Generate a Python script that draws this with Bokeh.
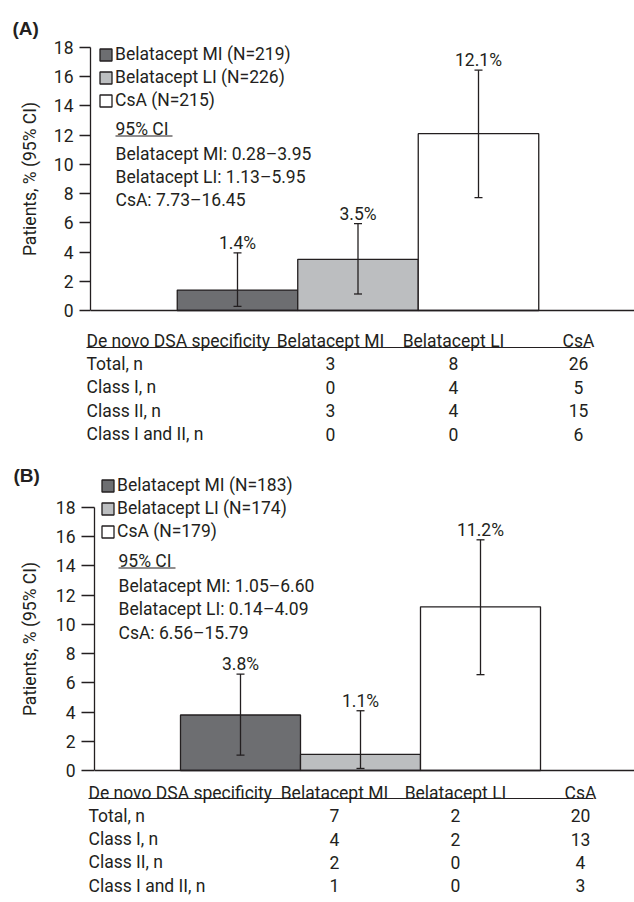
import math
from bokeh.plotting import figure
from bokeh.models import (ColumnDataSource, Range1d, Whisker, TeeHead, Legend, LegendItem,
                          Span, FixedTicker)
from bokeh.layouts import column, row
from bokeh.embed import file_html
from bokeh.resources import INLINE
from bokeh.core.properties import value

# ---------------- data ----------------
groups = ["Belatacept MI", "Belatacept LI", "CsA"]
a_n = [219, 226, 215]
a_pct = [1.4, 3.5, 12.1]
a_lo = [0.28, 1.13, 7.73]
a_hi = [3.95, 5.95, 16.45]
b_n = [183, 174, 179]
b_pct = [3.8, 1.1, 11.2]
b_lo = [1.05, 0.14, 6.56]
b_hi = [6.60, 4.09, 15.79]
y_ticks = [0, 2, 4, 6, 8, 10, 12, 14, 16, 18]
table_title = "De novo DSA specificity"
row_labels = ["Total, n", "Class I, n", "Class II, n", "Class I and II, n"]
a_mi = [3, 0, 3, 0]
a_li = [8, 4, 4, 0]
a_csa = [26, 5, 15, 6]
b_mi = [7, 4, 2, 1]
b_li = [2, 2, 0, 0]
b_csa = [20, 13, 4, 3]
y_label = "Patients, % (95% CI)"

# ---------------- style ----------------
FONT = "Roboto"
FS = "17.5px"
INK = "#231f20"
bar_colors = ["#6d6e71", "#bcbec0", "#ffffff"]
PAGE_W = 634
LW = 48  # width of the left strip holding the panel letter and y label
SY = 14.61


def bare(fig):
    fig.outline_line_color = None
    fig.grid.visible = False
    fig.xaxis.visible = False
    fig.yaxis.visible = False
    fig.background_fill_color = "white"
    fig.border_fill_color = "white"
    return fig


def make_panel(letter, n_vals, pct, lo, hi, tab_cols, g):
    left, top, y0 = g["left"], g["top"], g["y0"]
    cbot = g["chart_bottom"]
    sx = g["bar_px"]
    x_start = 1 - (g["mi_center"] - left) / sx
    x_end = x_start + (PAGE_W - left) / sx

    def dx(px):
        return x_start + (px - left) / sx

    def dy(py):
        return (y0 - py) / SY

    yr = Range1d(dy(cbot), dy(top))
    h = cbot - top

    # ---------- left strip: panel letter + y axis title ----------
    lf = bare(figure(width=LW, height=h, x_range=Range1d(0, LW), y_range=yr,
                     output_backend="svg", toolbar_location=None,
                     min_border_left=0, min_border_right=0,
                     min_border_top=0, min_border_bottom=0))
    lf.text(x=[g["letter_x"]], y=[dy(g["letter_y"])], text=[f"({letter})"],
            text_align="left", text_baseline="middle",
            text_font=value("Liberation Sans"), text_font_style="bold",
            text_font_size="19px", text_color=INK)
    lf.text(x=[g["ylab_x"]], y=[9], text=[y_label], angle=math.pi / 2,
            text_align="center", text_baseline="middle",
            text_font=value(FONT), text_font_size=FS, text_color=INK)

    # ---------- chart ----------
    p = figure(width=PAGE_W - LW, height=h,
               x_range=Range1d(x_start, x_end), y_range=yr,
               output_backend="svg", toolbar_location=None,
               min_border_left=left - LW, min_border_right=0,
               min_border_top=0, min_border_bottom=0)
    p.outline_line_color = None
    p.grid.visible = False
    p.xaxis.visible = False
    p.background_fill_color = "white"
    p.border_fill_color = "white"

    ax = p.yaxis[0]
    ax.bounds = (0, 18)
    ax.ticker = FixedTicker(ticks=y_ticks)
    ax.major_tick_out = g["tick"]
    ax.major_tick_in = 0
    ax.minor_tick_out = 0
    ax.minor_tick_in = 0
    ax.axis_line_color = INK
    ax.axis_line_width = 1.3
    ax.major_tick_line_color = INK
    ax.major_tick_line_width = 1.3
    ax.major_label_text_font = FONT
    ax.major_label_text_font_size = FS
    ax.major_label_text_color = INK
    ax.major_label_standoff = 6

    p.add_layout(Span(location=0, dimension="width", line_color=INK, line_width=1.3))

    xs = [1, 2, 3]
    src = ColumnDataSource(dict(x=xs, top=pct, color=bar_colors,
                                lower=lo, upper=hi,
                                lab=[f"{v}%" for v in pct]))
    bars = p.vbar(x="x", top="top", width=1.0, bottom=0, source=src,
                  fill_color="color", line_color=INK, line_width=1.3)

    p.add_layout(Whisker(source=src, base="x", lower="lower", upper="upper",
                         dimension="height", line_color=INK, line_width=1.3,
                         level="overlay",
                         upper_head=TeeHead(size=8, line_color=INK, line_width=1.3),
                         lower_head=TeeHead(size=8, line_color=INK, line_width=1.3)))

    p.text(x="x", y="upper", text="lab", source=src,
           text_align="center", text_baseline="bottom",
           text_font=value(FONT), text_font_size=FS, text_color=INK)

    # legend
    row_h = 23
    items = [LegendItem(label=f"{gname} (N={n})", renderers=[bars], index=i)
             for i, (gname, n) in enumerate(zip(groups, n_vals))]
    leg_top = g["leg_y"] - row_h / 2
    leg_h = row_h * len(items)
    p.add_layout(Legend(items=items,
                        location=(g["leg_x"] - left, cbot - leg_top - leg_h),
                        glyph_width=15, glyph_height=15, label_standoff=2,
                        label_height=row_h, spacing=0, padding=0, margin=0,
                        border_line_color=None, background_fill_alpha=0,
                        label_text_font=FONT, label_text_font_size=FS,
                        label_text_color=INK, label_text_baseline="middle"))

    # 95% CI block
    ci_lines = ["95% CI"] + [f"{gname}: {l:.2f}\u2013{hh:.2f}"
                             for gname, l, hh in zip(groups, lo, hi)]
    ci_src = ColumnDataSource(dict(x=[dx(g["ci_x"])] * 4,
                                   y=[dy(v) for v in g["ci_rows"]],
                                   text=ci_lines))
    p.text(x="x", y="y", text="text", source=ci_src, text_align="left",
           text_baseline="middle", text_font=value(FONT), text_font_size=FS,
           text_color=INK)
    p.segment(x0=[dx(g["ci_x"])], x1=[dx(g["ci_ul_end"])],
              y0=[dy(g["ci_ul_y"])], y1=[dy(g["ci_ul_y"])],
              line_color=INK, line_width=1.2)

    # ---------- table ----------
    tb_top, tb_bot = cbot, g["bottom"]
    hy, step = g["tab_head_y"], g["tab_step"]
    tf = bare(figure(width=PAGE_W, height=tb_bot - tb_top,
                     x_range=Range1d(0, PAGE_W),
                     y_range=Range1d((tb_bot - hy) / step, (tb_top - hy) / step),
                     output_backend="svg", toolbar_location=None,
                     min_border_left=0, min_border_right=0,
                     min_border_top=0, min_border_bottom=0))
    nrow = len(row_labels)
    lab_src = ColumnDataSource(dict(x=[g["tab_left"]] * (nrow + 1),
                                    y=list(range(nrow + 1)),
                                    text=[table_title] + row_labels))
    tf.text(x="x", y="y", text="text", source=lab_src, text_align="left",
            text_baseline="middle", text_font=value(FONT), text_font_size=FS,
            text_color=INK)
    cx, cy, ct = [], [], []
    for gname, col_px, vals in zip(groups, g["tab_cols"], tab_cols):
        cx.append(col_px); cy.append(0); ct.append(gname)
        for r, v in enumerate(vals):
            cx.append(col_px); cy.append(r + 1); ct.append(str(v))
    val_src = ColumnDataSource(dict(x=cx, y=cy, text=ct))
    tf.text(x="x", y="y", text="text", source=val_src, text_align="center",
            text_baseline="middle", text_font=value(FONT), text_font_size=FS,
            text_color=INK)
    ul = (g["tab_ul_y"] - hy) / step
    tf.segment(x0=[g["tab_left"]], x1=[g["tab_right"]], y0=[ul], y1=[ul],
               line_color=INK, line_width=1.2)

    return column(row(lf, p, spacing=0), tf, spacing=0)


geom_a = dict(left=90, top=0, chart_bottom=322, bottom=460, y0=310, mi_center=237,
              bar_px=120.5, tick=11,
              ylab_x=29, letter_x=12, letter_y=28, leg_x=98, leg_y=54,
              ci_x=115, ci_rows=[128, 153, 176, 199], ci_ul_y=135.5, ci_ul_end=172,
              tab_left=86, tab_cols=[330, 453, 578], tab_head_y=340, tab_step=23.4,
              tab_ul_y=347, tab_right=590)
geom_b = dict(left=94, top=460, chart_bottom=780, bottom=902, y0=770, mi_center=240,
              bar_px=120, tick=13,
              ylab_x=29, letter_x=13, letter_y=475, leg_x=100, leg_y=485,
              ci_x=118, ci_rows=[560, 585, 608, 632], ci_ul_y=567.5, ci_ul_end=175,
              tab_left=88, tab_cols=[334, 455, 580], tab_head_y=792, tab_step=23.3,
              tab_ul_y=798, tab_right=593)

pa = make_panel("A", a_n, a_pct, a_lo, a_hi, [a_mi, a_li, a_csa], geom_a)
pb = make_panel("B", b_n, b_pct, b_lo, b_hi, [b_mi, b_li, b_csa], geom_b)

layout = column(pa, pb, spacing=0)
open("out.html", "w").write(file_html(layout, INLINE))
